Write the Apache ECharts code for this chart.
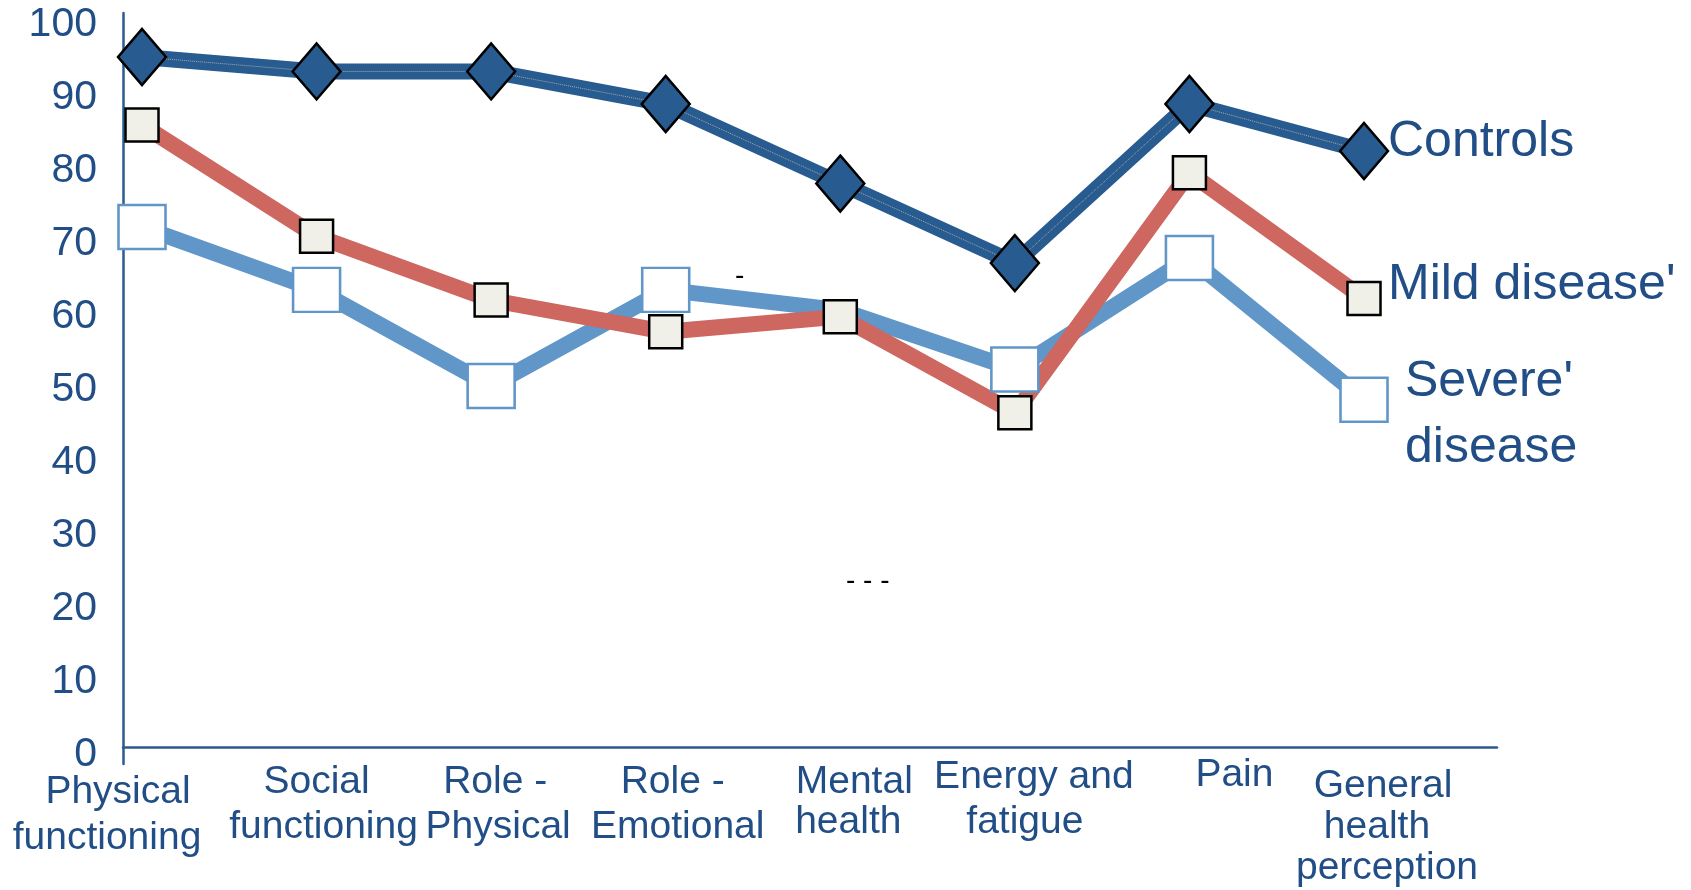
<!DOCTYPE html>
<html>
<head>
<meta charset="utf-8">
<title>SF-36 domain scores</title>
<style>
  html, body { margin: 0; padding: 0; background: #ffffff; }
  #chart { width: 1691px; height: 890px; }
</style>
<script src="https://cdn.jsdelivr.net/npm/echarts@6/dist/echarts.min.js"></script>
</head>
<body>
<div id="chart"></div>
<script>
// ---- data ----
const categories = [
  'Physical\nfunctioning',
  'Social\nfunctioning',
  'Role -\nPhysical',
  'Role -\nEmotional',
  'Mental\nhealth',
  'Energy and\nfatigue',
  'Pain',
  'General\nhealth\nperception'
];
const controls      = [95.4, 93.4, 93.4, 88.9, 77.9, 66.9, 88.9, 82.4];
const mildDisease   = [86.0, 70.6, 61.8, 57.4, 59.5, 46.2, 79.4, 62.0];
const severeDisease = [71.9, 63.2, 49.9, 63.2, 60.4, 52.2, 67.6, 48.0];
const yTicks = [0, 10, 20, 30, 40, 50, 60, 70, 80, 90, 100];

// ---- styling ----
const FONT = "'Liberation Sans', Arial, Helvetica, sans-serif";
const TEXT = '#214e86';
const AXIS = '#2b5b8e';
const DARK = '#285c90';
const RED = '#cd6760';
const LIGHT = '#6196c9';
const LINE_W = 16;

// the severe-disease marker at "Mental health" is not drawn
const severeNoMarker = [4];

// per-line horizontal nudges, top spacing and line height of the category labels
const labelShift = [[-24, -35], [0, 7], [4, 7], [7, 12], [14, 8], [19, 10], [45], [19, 13, 23]];
const labelTopPad = [18, 8.5, 8.5, 8.5, 11, 3.5, 1.5, 14.5];
const labelLineH = [46, 45, 45, 45, 40, 45, 45, 41];

const rich = {};
categories.forEach(function (cat, i) {
  rich['s' + i] = { fontSize: 1, lineHeight: Math.max(labelTopPad[i], 0.5), align: 'center' };
  cat.split('\n').forEach(function (line, j) {
    const dx = labelShift[i][j] || 0;
    rich['c' + i + '_' + j] = {
      fontSize: 39,
      fontFamily: FONT,
      color: TEXT,
      align: 'center',
      lineHeight: labelLineH[i],
      padding: [0, dx < 0 ? -2 * dx : 0, 0, dx > 0 ? 2 * dx : 0]
    };
  });
});

function categoryLabel(value, index) {
  const lines = String(value).split('\n').map(function (line, j) {
    return '{c' + index + '_' + j + '|' + line + '}';
  });
  return '{s' + index + '| }\n' + lines.join('\n');
}

const endLabelBase = { show: true, fontSize: 50, fontFamily: FONT, color: TEXT };
const hidden = { axisLine: { show: false }, axisTick: { show: false }, axisLabel: { show: false }, splitLine: { show: false } };

const chart = echarts.init(document.getElementById('chart'), null, { renderer: 'canvas' });

chart.setOption({
  animation: false,
  backgroundColor: '#ffffff',
  grid: [
    // frame: the two visible axis lines
    { left: 123, right: 194, top: 13, bottom: 126 },
    // plotting area for the three profiles
    { left: 142, right: 327, top: 23.7, bottom: 143 },
    // value scale labels, spaced slightly wider than the plotting area
    { left: 142, right: 327, top: 25, bottom: 135 }
  ],
  xAxis: [
    {
      type: 'value', gridIndex: 0, min: 0, max: 1,
      axisLine: { show: true, onZero: true, lineStyle: { color: AXIS, width: 2.5 } },
      axisTick: { show: false }, axisLabel: { show: false }, splitLine: { show: false }
    },
    {
      type: 'category', gridIndex: 1, data: categories, boundaryGap: false,
      axisLine: { show: false }, axisTick: { show: false }, splitLine: { show: false },
      axisLabel: { interval: 0, margin: 4, formatter: categoryLabel, rich: rich }
    },
    Object.assign({ type: 'value', gridIndex: 2, min: 0, max: 1 }, hidden)
  ],
  yAxis: [
    {
      type: 'value', gridIndex: 0, min: -2.35, max: 101.5,
      axisLine: { show: true, onZero: false, lineStyle: { color: AXIS, width: 2.5 } },
      axisTick: { show: false }, axisLabel: { show: false }, splitLine: { show: false }
    },
    Object.assign({
      type: 'value', gridIndex: 1,
      min: yTicks[0], max: yTicks[yTicks.length - 1], interval: yTicks[1] - yTicks[0]
    }, hidden),
    {
      type: 'value', gridIndex: 2,
      min: yTicks[0], max: yTicks[yTicks.length - 1], interval: yTicks[1] - yTicks[0],
      offset: 19,
      axisLine: { show: false }, axisTick: { show: false }, splitLine: { show: false },
      axisLabel: { fontSize: 41, fontFamily: FONT, color: TEXT, margin: 26 }
    }
  ],
  series: [
    {
      name: "Severe' disease", type: 'line', xAxisIndex: 1, yAxisIndex: 1,
      data: severeDisease.map(function (v, i) {
        return severeNoMarker.indexOf(i) >= 0 ? { value: v, symbol: 'none' } : v;
      }),
      lineStyle: { color: LIGHT, width: LINE_W },
      symbol: 'rect', symbolSize: [47, 44],
      itemStyle: { color: '#ffffff', borderColor: LIGHT, borderWidth: 2.5 },
      endLabel: Object.assign({}, endLabelBase, {
        formatter: "Severe'\ndisease", lineHeight: 66, distance: 41, offset: [0, 15]
      })
    },
    {
      name: "Mild disease'", type: 'line', xAxisIndex: 1, yAxisIndex: 1,
      data: mildDisease,
      lineStyle: { color: RED, width: LINE_W },
      symbol: 'rect', symbolSize: [33, 33],
      itemStyle: { color: '#f0f0e8', borderColor: '#000000', borderWidth: 2.5 },
      endLabel: Object.assign({}, endLabelBase, {
        formatter: "Mild disease'", distance: 24, offset: [0, -13]
      })
    },
    {
      name: 'Controls', type: 'line', xAxisIndex: 1, yAxisIndex: 1,
      data: controls,
      symbol: 'none',
      lineStyle: { color: DARK, width: LINE_W },
      endLabel: Object.assign({}, endLabelBase, {
        formatter: 'Controls', distance: 24, offset: [0, -9]
      })
    },
    {
      name: 'Controls sheen', type: 'line', xAxisIndex: 1, yAxisIndex: 1,
      data: controls,
      symbol: 'none',
      lineStyle: { color: '#a9a9a9', width: 1, type: 'dotted' }
    },
    {
      name: 'Controls markers', type: 'line', xAxisIndex: 1, yAxisIndex: 1,
      data: controls,
      lineStyle: { opacity: 0, width: 0 },
      symbol: 'diamond', symbolSize: [48, 56],
      itemStyle: { color: DARK, borderColor: '#000000', borderWidth: 2.5 }
    }
  ],
  graphic: [
    { type: 'text', x: 735, y: 276, style: { text: '-', font: '28px ' + FONT, fill: '#000000', verticalAlign: 'middle', align: 'left' } },
    { type: 'text', x: 846, y: 581, style: { text: '- - -', font: '28px ' + FONT, fill: '#000000', verticalAlign: 'middle', align: 'left' } }
  ]
});
</script>
</body>
</html>
